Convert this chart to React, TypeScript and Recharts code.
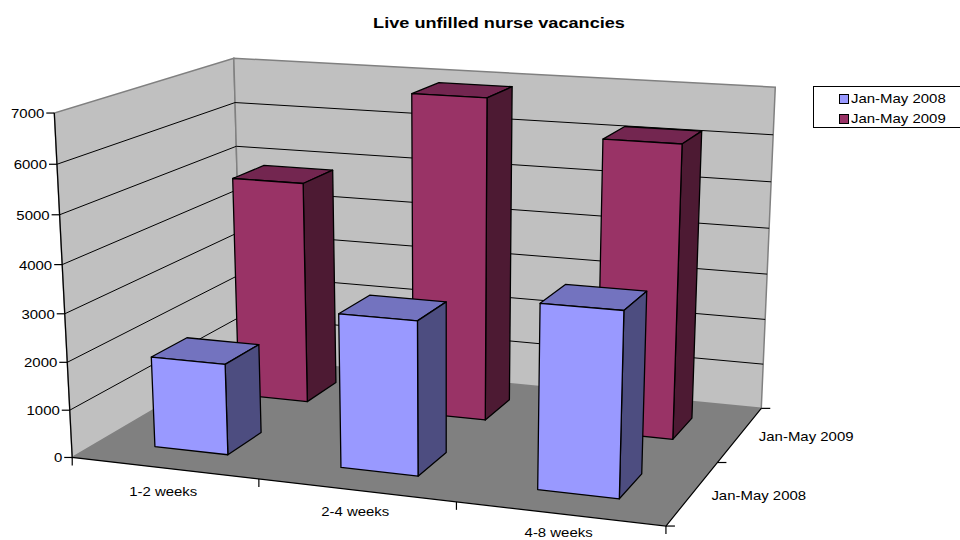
import React from 'react';
import { BarChart, Bar, XAxis, YAxis, Legend } from 'recharts';

const categories = ['1-2 weeks', '2-4 weeks', '4-8 weeks'];
const seriesNames = ['Jan-May 2008', 'Jan-May 2009'];
const values2008 = [1910, 3170, 3730];
const values2009 = [4850, 6900, 6200];
const yTicks = [0, 1000, 2000, 3000, 4000, 5000, 6000, 7000];

const chartData = categories.map((name, i) => ({
  name,
  [seriesNames[0]]: values2008[i],
  [seriesNames[1]]: values2009[i],
}));

// flat plot rectangle that recharts lays out; results get projected into the 3D box
const W = 960;
const H = 540;
const margin = { top: 100, right: 100, bottom: 99, left: 99 };
const plotLeft = 100;
const plotW = W - 200;
const yMax = 7000;

// box corners on screen: [u, v, w, screenX, screenY]
const boxCorners = [
  [0, 0, 0, 71.5, 458],
  [0, 0, 1, 55, 113],
  [0, 1, 0, 243, 357],
  [0, 1, 1, 233, 58.5],
  [1, 1, 1, 775.5, 87],
  [1, 1, 0, 761, 409],
  [1, 0, 0, 666, 525.5],
];

// least squares for the camera matrix, so bars get real perspective
const solveCamera = () => {
  const rows: number[][] = [];
  const rhs: number[] = [];
  boxCorners.forEach(([u, v, w, x, y]) => {
    rows.push([u, v, w, 1, 0, 0, 0, 0, -x * u, -x * v, -x * w]);
    rhs.push(x);
    rows.push([0, 0, 0, 0, u, v, w, 1, -y * u, -y * v, -y * w]);
    rhs.push(y);
  });
  const n = 11;
  const m = Array.from({ length: n }, (_, i) => {
    const row = Array.from({ length: n }, (_, j) =>
      rows.reduce((s, r) => s + r[i] * r[j], 0)
    );
    row.push(rows.reduce((s, r, k) => s + r[i] * rhs[k], 0));
    return row;
  });
  for (let c = 0; c < n; c++) {
    let best = c;
    for (let r = c + 1; r < n; r++) if (Math.abs(m[r][c]) > Math.abs(m[best][c])) best = r;
    [m[c], m[best]] = [m[best], m[c]];
    for (let r = 0; r < n; r++) {
      if (r === c) continue;
      const f = m[r][c] / m[c][c];
      for (let k = c; k <= n; k++) m[r][k] -= f * m[c][k];
    }
  }
  return m.map((row, i) => row[n] / row[i]);
};

const cam = solveCamera();

const project = (u: number, v: number, w: number) => {
  const d = cam[8] * u + cam[9] * v + cam[10] * w + 1;
  return {
    x: (cam[0] * u + cam[1] * v + cam[2] * w + cam[3]) / d,
    y: (cam[4] * u + cam[5] * v + cam[6] * w + cam[7]) / d,
  };
};

const pts = (list: number[][]) =>
  list
    .map(([u, v, w]) => {
      const p = project(u, v, w);
      return `${p.x},${p.y}`;
    })
    .join(' ');

const fontFamily = 'Liberation Sans, Arial, sans-serif';

// reference text is a bit wider than normal Arial
const Label = ({ x, y, anchor, children }: any) => (
  <text
    transform={`translate(${x},${y}) scale(1.15,1)`}
    textAnchor={anchor}
    fontFamily={fontFamily}
    fontSize={13}
    fill="#000"
    stroke="none"
  >
    {children}
  </text>
);

const Backdrop = () => (
  <g>
    <polygon points={pts([[0, 0, 0], [0, 1, 0], [1, 1, 0], [1, 0, 0]])} fill="#808080" />
    <polygon
      points={pts([[0, 0, 0], [0, 0, 1], [0, 1, 1], [0, 1, 0]])}
      fill="#c0c0c0"
      stroke="#808080"
      strokeWidth={1.5}
    />
    <polygon
      points={pts([[0, 1, 0], [0, 1, 1], [1, 1, 1], [1, 1, 0]])}
      fill="#c0c0c0"
      stroke="#808080"
      strokeWidth={1.5}
    />
    {yTicks.slice(1, -1).map((t) => (
      <polyline
        key={t}
        points={pts([[0, 0, t / yMax], [0, 1, t / yMax], [1, 1, t / yMax]])}
        fill="none"
        stroke="#000"
        strokeWidth={1}
      />
    ))}
  </g>
);

// axis lines, tick marks and depth labels
const BoxAxes = () => {
  const depthTicks = [0, 0.5, 1];
  return (
    <g stroke="#000" strokeWidth={1.2} fill="none">
      <polyline points={pts([[0, 0, 1], [0, 0, 0], [1, 0, 0], [1, 1, 0]])} />
      {[0, 1 / 3, 2 / 3, 1].map((u) => {
        const p = project(u, 0, 0);
        return <line key={u} x1={p.x} y1={p.y} x2={p.x} y2={p.y + 8} />;
      })}
      {yTicks.map((t) => {
        const p = project(0, 0, t / yMax);
        return <line key={t} x1={p.x} y1={p.y} x2={p.x - 8} y2={p.y} />;
      })}
      {depthTicks.map((v) => {
        const p = project(1, v, 0);
        return <line key={v} x1={p.x} y1={p.y} x2={p.x + 9} y2={p.y} />;
      })}
      {seriesNames.map((name, i) => {
        const p = project(1, (i + 0.5) / 2, 0);
        return (
          <Label key={name} x={p.x + 66} y={p.y + 7} anchor="middle">
            {name}
          </Label>
        );
      })}
    </g>
  );
};

const YTick = ({ payload }: any) => {
  const p = project(0, 0, payload.value / yMax);
  return (
    <Label x={p.x - 10} y={p.y + 5} anchor="end">
      {payload.value}
    </Label>
  );
};

const XTick = ({ payload }: any) => {
  const u = (payload.coordinate - plotLeft) / plotW;
  const p = project(u, 0, 0);
  // last label sits right at the page edge, so the offset shrinks going right
  return (
    <Label x={p.x - 1} y={p.y + 29 - 6.5 * u} anchor="middle">
      {payload.value}
    </Label>
  );
};

const sideColors = [
  { top: '#7373bf', side: '#4d4d80' },
  { top: '#732650', side: '#4d1a33' },
];

const box3d = (slot: number) => (props: any) => {
  const { x, width, height, fill, background } = props;
  const u0 = (x - plotLeft) / plotW;
  const u1 = (x + width - plotLeft) / plotW;
  // background is the full plot height, the legend takes a bit away from the margins
  const w = height / background.height;
  // two depth slots, gap depth 150%
  const v0 = (slot + 0.3) / 2;
  const v1 = (slot + 0.7) / 2;
  const common = { stroke: '#000', strokeWidth: 1.3, strokeLinejoin: 'round' as const };
  return (
    <g>
      <polygon points={pts([[u0, v0, w], [u0, v1, w], [u1, v1, w], [u1, v0, w]])} fill={sideColors[slot].top} {...common} />
      <polygon points={pts([[u1, v0, 0], [u1, v0, w], [u1, v1, w], [u1, v1, 0]])} fill={sideColors[slot].side} {...common} />
      <polygon points={pts([[u0, v0, 0], [u0, v0, w], [u1, v0, w], [u1, v0, 0]])} fill={fill} {...common} />
    </g>
  );
};

const LegendBox = ({ payload }: any) => (
  <div
    style={{
      border: '1px solid #000',
      boxSizing: 'border-box',
      height: 42,
      paddingTop: 2,
      background: '#fff',
      fontFamily,
      fontSize: 13,
      color: '#000',
    }}
  >
    {[...(payload || [])]
      .sort((a: any, b: any) => (a.value > b.value ? 1 : -1))
      .map((item: any) => (
        <div key={item.value} style={{ height: 20, lineHeight: '20px', whiteSpace: 'nowrap', display: 'flex', alignItems: 'center' }}>
          <span
            style={{
              display: 'inline-block',
              width: 8,
              height: 8,
              marginLeft: 25,
              marginRight: 2,
              border: '1px solid #000',
              background: item.color,
            }}
          />
          <span style={{ display: 'inline-block', transform: 'scaleX(1.15)', transformOrigin: 'left center' }}>
            {item.value}
          </span>
        </div>
      ))}
  </div>
);

export default function App() {
  return (
    <div style={{ position: 'absolute', left: 0, top: 0, width: W, height: H, overflow: 'hidden', background: '#fff' }}>
      <BarChart width={W} height={H} data={chartData} margin={margin} barCategoryGap="30%">
        <Backdrop />
        <XAxis xAxisId="front" dataKey="name" axisLine={false} tickLine={false} tick={<XTick />} height={1} interval={0} />
        <XAxis xAxisId="back" dataKey="name" hide />
        <YAxis
          yAxisId="front"
          domain={[0, yMax]}
          ticks={yTicks}
          axisLine={false}
          tickLine={false}
          tick={<YTick />}
          width={1}
          interval={0}
        />
        <YAxis yAxisId="back" domain={[0, yMax]} hide />
        <BoxAxes />
        <Bar xAxisId="back" yAxisId="back" dataKey={seriesNames[1]} fill="#993366" isAnimationActive={false} shape={box3d(1)} />
        <Bar xAxisId="front" yAxisId="front" dataKey={seriesNames[0]} fill="#9999ff" isAnimationActive={false} shape={box3d(0)} />
        <Legend
          content={<LegendBox />}
          wrapperStyle={{ position: 'absolute', left: 813, top: 86, width: 160 }}
        />
        <text
          transform="translate(499,28) scale(1.21,1)"
          textAnchor="middle"
          fontFamily={fontFamily}
          fontSize={15}
          fontWeight="bold"
          fill="#000"
        >
          Live unfilled nurse vacancies
        </text>
      </BarChart>
    </div>
  );
}
